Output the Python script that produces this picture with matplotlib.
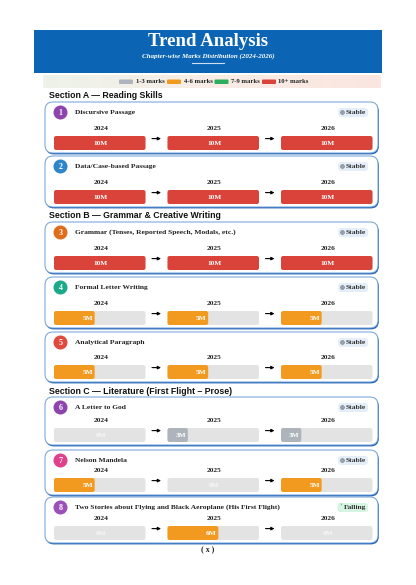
import numpy as np
import matplotlib
matplotlib.use("Agg")
import matplotlib.pyplot as plt
from matplotlib.patches import FancyBboxPatch, Circle
from matplotlib.colors import LinearSegmentedColormap

# ── Data ─────────────────────────────────────────────────────────────────────
years = ["2024", "2025", "2026"]
sections = [
    "Section A \u2014 Reading Skills",
    "Section B \u2014 Grammar & Creative Writing",
    "Section C \u2014 Literature (First Flight \u2013 Prose)",
]
chapters = [
    "Discursive Passage",
    "Data/Case-based Passage",
    "Grammar (Tenses, Reported Speech, Modals, etc.)",
    "Formal Letter Writing",
    "Analytical Paragraph",
    "A Letter to God",
    "Nelson Mandela",
    "Two Stories about Flying and Black Aeroplane (His First Flight)",
]
chapter_section = [0, 0, 1, 1, 1, 2, 2, 2]
marks_2024 = [10, 10, 10, 5, 5, 0, 5, 0]
marks_2025 = [10, 10, 10, 5, 5, 3, 0, 6]
marks_2026 = [10, 10, 10, 5, 5, 3, 5, 0]
trends = ["Stable", "Stable", "Stable", "Stable", "Stable", "Stable", "Stable", "Falling"]
legend_labels = ["1-3 marks", "4-6 marks", "7-9 marks", "10+ marks"]

# ── Style ────────────────────────────────────────────────────────────────────
BLUE = "#0b65b4"
CARD_EDGE = "#6d9dd6"
CARD_SHADOW = "#1d5fb3"
BAR_BG = "#e3e3e3"
band_colors = ["#aeb4bb", "#f29a1f", "#2bae5e", "#d9433a"]
circle_colors = ["#8e44ad", "#2e86c8", "#e06c1a", "#1aaa8a",
                 "#e04a3c", "#8e44ad", "#e0408a", "#9b50b8"]
SERIF = ["Liberation Serif", "DejaVu Serif"]
SANS = ["Liberation Sans", "DejaVu Sans"]


def band_color(m):
    if m >= 10:
        return band_colors[3]
    if m >= 7:
        return band_colors[2]
    if m >= 4:
        return band_colors[1]
    return band_colors[0]


def rbox(ax, x, y, w, h, r, **kw):
    p = FancyBboxPatch((x, y), w, h, boxstyle=f"round,pad=0,rounding_size={r}",
                       mutation_aspect=1, **kw)
    ax.add_patch(p)
    return p


fig = plt.figure(figsize=(4.16, 5.85), dpi=100)
ax = fig.add_axes([0, 0, 1, 1])
ax.set_xlim(0, 416)
ax.set_ylim(585, 0)
ax.axis("off")

# ── Header ───────────────────────────────────────────────────────────────────
ax.add_patch(plt.Rectangle((34, 30), 348, 43, color=BLUE, lw=0))
ax.text(208, 42, "Trend Analysis", ha="center", va="center", color="white",
        fontsize=13.5, fontweight="bold", family=SERIF)
ax.text(208, 56, "Chapter-wise Marks Distribution (2024-2026)", ha="center",
        va="center", color="white", fontsize=5.0, fontstyle="italic",
        fontweight="bold", family=SERIF)
ax.plot([192, 224], [63, 63], color="white", lw=0.8, alpha=0.8)

# legend strip with soft gradient
grad = LinearSegmentedColormap.from_list("g", ["#edf3ea", "#f8ede6", "#fbe6e0"])
ax.imshow(np.linspace(0, 1, 100).reshape(1, -1), cmap=grad, aspect="auto",
          extent=(42.5, 380, 88.5, 75.5), zorder=0.5)
lx = [119, 167, 214.5, 262]
for x, lab, c in zip(lx, legend_labels, band_colors):
    rbox(ax, x, 79.5, 14, 4.5, 1, facecolor=c, edgecolor="none", zorder=2)
    ax.text(x + 16.5, 81.8, lab, ha="left", va="center", fontsize=4.8,
            fontweight="bold", family=SERIF, color="#222222", zorder=2)

# ── Cards ────────────────────────────────────────────────────────────────────
section_y = [96, 215, 391]
card_top = [102, 156, 222, 277, 332, 397, 450, 497]
card_h = [51, 51, 51, 51, 50, 48, 45, 46]
card_x0, card_x1 = 45, 378
bar_x0 = [54, 167.5, 281]
bar_w = 91.5

for s, y in zip(sections, section_y):
    ax.text(49, y, s, ha="left", va="center", fontsize=6.3, fontweight="bold",
            family=SANS, color="#111111")

all_marks = list(zip(marks_2024, marks_2025, marks_2026))
for i, (title, ms, trend) in enumerate(zip(chapters, all_marks, trends)):
    top = card_top[i]
    bot = top + card_h[i]
    # shadow + card
    rbox(ax, card_x0 + 0.8, top + 1.4, card_x1 - card_x0, card_h[i], 8,
         facecolor=CARD_SHADOW, edgecolor="none", zorder=1)
    rbox(ax, card_x0, top, card_x1 - card_x0, card_h[i], 8,
         facecolor="white", edgecolor=CARD_EDGE, lw=0.7, zorder=1.5)

    cy = top + 10.5
    ax.add_patch(Circle((60.5, cy), 6.3, color=circle_colors[i], zorder=3))
    ax.text(60.5, cy + 0.3, str(i + 1), ha="center", va="center", color="white",
            fontsize=5.8, fontweight="bold", family=SERIF, zorder=4)
    ax.text(75, cy, title, ha="left", va="center", fontsize=5.4,
            fontweight="bold", family=SERIF, color="#222222", zorder=3)

    # trend badge
    if trend == "Stable":
        rbox(ax, 338, cy - 4.5, 30, 9, 3, facecolor="#e4eef8", edgecolor="none", zorder=3)
        ax.add_patch(Circle((342.5, cy), 1.9, facecolor="#9aa3ad", edgecolor="#6f7780",
                            lw=0.4, zorder=4))
        ax.text(345.5, cy, trend, ha="left", va="center", fontsize=5.4,
                fontweight="bold", family=SERIF, color="#333333", zorder=4)
    else:
        rbox(ax, 337.5, cy - 4.5, 30.5, 9, 3, facecolor="#d6f4e2", edgecolor="none", zorder=3)
        ax.text(341.3, cy - 0.6, "\u02c5", ha="center", va="center", fontsize=4,
                color="#1e8449", family=["DejaVu Sans"], zorder=4)
        ax.text(344, cy, trend, ha="left", va="center", fontsize=5.4,
                fontweight="bold", family=SERIF, color="#333333", zorder=4)

    btop = bot - 17
    for j, (yr, m) in enumerate(zip(years, ms)):
        x0 = bar_x0[j]
        ax.text(x0 + bar_w / 2 + 1, bot - 24.2, yr, ha="center", va="center",
                fontsize=5.3, fontweight="bold", family=SERIF, color="#222222", zorder=3)
        rbox(ax, x0, btop, bar_w, 14, 2.2, facecolor=BAR_BG, edgecolor="none", zorder=3)
        frac = max(0.0, min(1.0, (m - 1) / 9))
        if m > 0:
            fw = bar_w * frac
            rbox(ax, x0, btop, fw, 14, 2.2, facecolor=band_color(m),
                 edgecolor="none", zorder=4)
            if m >= 10:
                ax.text(x0 + bar_w / 2 + 1, btop + 7.3, f"{m}M", ha="center", va="center",
                        fontsize=5.3, fontweight="bold", family=SERIF, color="white", zorder=5)
            else:
                ax.text(x0 + fw - 1.5, btop + 7.3, f"{m}M", ha="right", va="center",
                        fontsize=5.3, fontweight="bold", family=SERIF, color="white", zorder=5)
        else:
            ax.text(x0 + bar_w / 2 + 1, btop + 7.3, "0M", ha="center", va="center",
                    fontsize=5.3, fontweight="bold", family=SERIF, color="#f6f6f6", zorder=5)
        if j < 2:
            ax_x = x0 + bar_w + 11
            ax.annotate("", xy=(ax_x + 4.5, btop + 2.6), xytext=(ax_x - 4.5, btop + 2.6),
                        arrowprops=dict(arrowstyle="-|>", color="black", lw=0.8,
                                        mutation_scale=4.5, shrinkA=0, shrinkB=0),
                        zorder=5)

ax.text(208, 550.5, "( x )", ha="center", va="center", fontsize=5.6,
        fontweight="bold", family=SERIF, color="#222222")

fig.savefig("out.png", dpi=100, facecolor="white")
